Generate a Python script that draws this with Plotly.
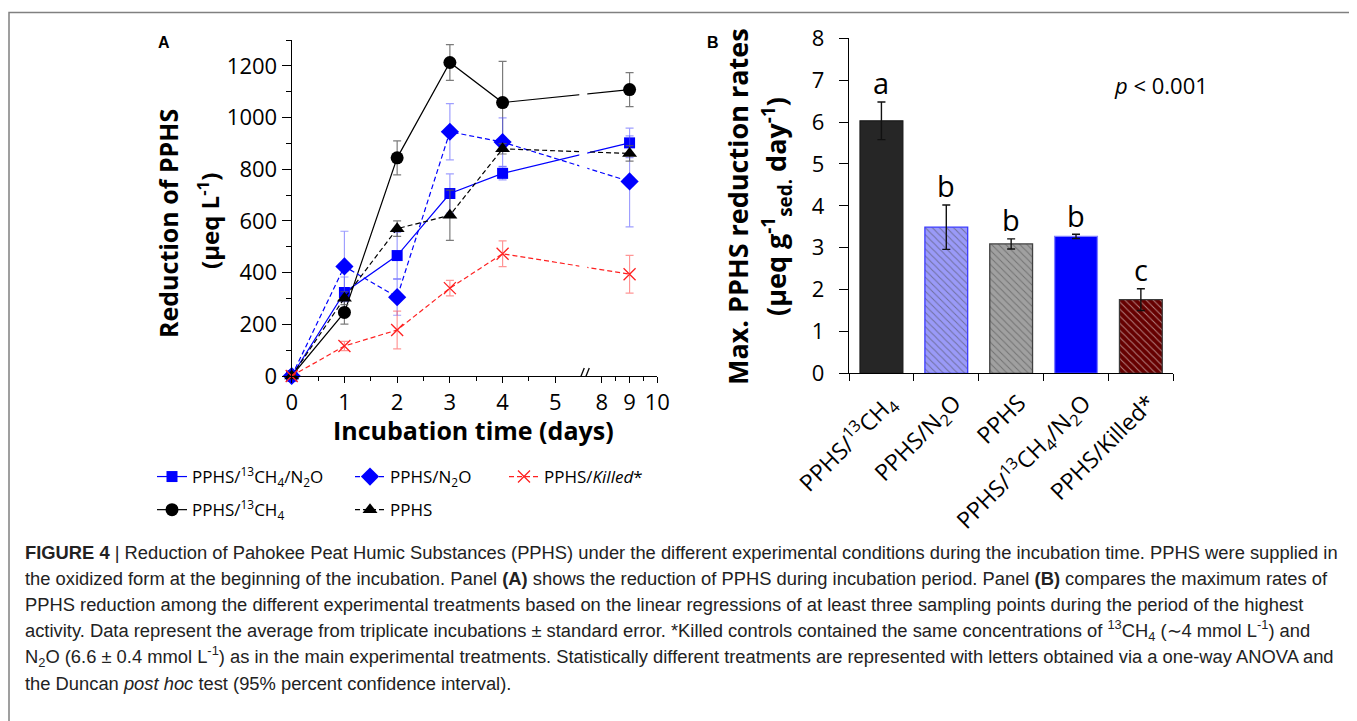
import plotly.graph_objects as go

W, H = 1357, 721
PAGE_OFFSET = 8  # default page margin around the plot div

# ---------------- Panel A data ----------------
days = [0, 1, 2, 3, 4, 9]
ch4_n2o = [0, 323, 466, 706, 784, 902]
ch4_n2o_err = [0, 60, 90, 76, 25, 57]
n2o = [0, 424, 305, 945, 905, 753]
n2o_err = [0, 136, 70, 109, 94, 176]
killed = [0, 116, 178, 340, 473, 394]
killed_err = [0, 18, 73, 30, 50, 73]
ch4 = [0, 246, 844, 1213, 1058, 1108]
ch4_err = [0, 45, 66, 69, 159, 66]
pphs = [0, 301, 570, 622, 879, 861]
pphs_err = [0, 25, 30, 97, 20, 30]

x_tick_days = [0, 1, 2, 3, 4, 5, 8, 9, 10]
x_minor_days = [0.5, 1.5, 2.5, 3.5, 4.5, 8.5, 9.5]

# ---------------- Panel B data ----------------
bar_labels = ["PPHS/<sup>13</sup>CH<sub>4</sub>", "PPHS/N<sub>2</sub>O", "PPHS",
              "PPHS/<sup>13</sup>CH<sub>4</sub>/N<sub>2</sub>O", "PPHS/Killed*"]
bar_rates = [6.03, 3.49, 3.09, 3.27, 1.76]
bar_err = [0.45, 0.53, 0.12, 0.05, 0.26]
bar_letters = ["a", "b", "b", "b", "c"]
bar_colors = ["#262626", "#9a9af8", "#a0a0a0", "#0000ff", "#660000"]
bar_lines = ["#1a1a1a", "#3a3aff", "#404040", "#8080ff", "#3a3a3a"]
bar_hatch = ["", "\\", "\\", "", "\\"]
bar_hatch_col = ["#262626", "#8e8eee", "#939393", "#0000ff", "#731212"]

# broken axis: days 0-5 linear, then 8-10 compressed
SEG2_START = 5.882
SEG2_SCALE = 0.526
BREAK_U = 5.53


def u(d):
    return d if d <= 5.5 else SEG2_START + (d - 8) * SEG2_SCALE


def X(px):
    return (px - PAGE_OFFSET) / W


def Y(py):
    return 1 - (py - PAGE_OFFSET) / H


FONT = "Open Sans"
fig = go.Figure()


def add_series(y, err, name, color, errcolor, symbol, size, dash, legend, group, msize_line=0):
    fig.add_trace(go.Scatter(
        x=[u(d) for d in days], y=y, name=name, mode="lines+markers",
        line=dict(color=color, width=1.2, dash=dash),
        marker=dict(symbol=symbol, size=size, color=color,
                    line=dict(color=color, width=msize_line)),
        error_y=dict(type="data", array=err, color=errcolor, thickness=1.2, width=4),
        xaxis="x", yaxis="y", legend=legend, legendgroup=group, cliponaxis=False,
    ))


add_series(ch4_n2o, ch4_n2o_err, "PPHS/<sup>13</sup>CH<sub>4</sub>/N<sub>2</sub>O", "#0000ff",
           "rgba(80,80,255,0.55)", "square", 11, "solid", "legend", "g1")
add_series(ch4, ch4_err, "PPHS/<sup>13</sup>CH<sub>4</sub>", "#000000",
           "rgba(90,90,90,0.8)", "circle", 13, "solid", "legend", "g2")
add_series(n2o, n2o_err, "PPHS/N<sub>2</sub>O", "#0000ff",
           "rgba(80,80,255,0.55)", "diamond", 14, "5px,3px", "legend2", "g3")
add_series(pphs, pphs_err, "PPHS", "#000000",
           "rgba(90,90,90,0.8)", "triangle-up", 13, "5px,3px", "legend2", "g4")
add_series(killed, killed_err, "PPHS/<i>Killed</i>*", "#ff2020",
           "rgba(255,80,80,0.6)", "x-thin", 12, "5px,3px", "legend3", "g5", msize_line=1.3)

# ---------------- Panel B bars ----------------
fig.add_trace(go.Bar(
    x=bar_labels, y=bar_rates, width=0.66,
    marker=dict(color=bar_colors, line=dict(color=bar_lines, width=1.3),
                pattern=dict(shape=bar_hatch, fgcolor=bar_hatch_col, size=5, solidity=0.2)),
    error_y=dict(type="data", array=bar_err, color="#111111", thickness=1.4, width=4),
    xaxis="x2", yaxis="y2", showlegend=False,
))

for lab, r, e, let in zip(bar_labels, bar_rates, bar_err, bar_letters):
    fig.add_annotation(x=lab, y=r + e + 0.46, xref="x2", yref="y2", text=let,
                       showarrow=False, font=dict(family=FONT, size=29, color="black"),
                       xanchor="center", yanchor="middle")

axis_common = dict(showline=True, linecolor="black", linewidth=1.3, showgrid=False,
                   zeroline=False, tickcolor="black", tickwidth=1.3, automargin=False,
                   tickfont=dict(family=FONT, size=22, color="black"))

fig.update_layout(
    width=W, height=H, margin=dict(l=0, r=0, t=0, b=0, pad=0, autoexpand=False),
    paper_bgcolor="white", plot_bgcolor="white",
    xaxis=dict(domain=[X(291.7), X(657.3)], range=[0, u(10)], anchor="y",
               tickmode="array", tickvals=[u(d) for d in x_tick_days],
               ticktext=[str(d) for d in x_tick_days], ticks="outside", ticklen=6,
               minor=dict(tickmode="array", tickvals=[u(d) for d in x_minor_days],
                          ticks="outside", ticklen=4, tickcolor="black"),
               **axis_common),
    xaxis3=dict(overlaying="x", matches="x", anchor="y", range=[0, u(10)],
                tickmode="array", tickvals=[u(d) for d in x_tick_days],
                ticks="inside", ticklen=6, tickcolor="black", tickwidth=1.3,
                showticklabels=False, showline=False, showgrid=False, zeroline=False,
                automargin=False,
                minor=dict(tickmode="array", tickvals=[u(d) for d in x_minor_days],
                           ticks="inside", ticklen=4, tickcolor="black")),
    yaxis=dict(domain=[Y(376), Y(40)], range=[0, 1300], anchor="x",
               tickmode="linear", tick0=0, dtick=200, ticks="outside", ticklen=9,
               minor=dict(dtick=100, ticks="outside", ticklen=5, tickcolor="black"),
               **axis_common),
    xaxis2=dict(domain=[X(849), X(1173.3)], anchor="y2", type="category",
                categoryorder="array", categoryarray=bar_labels, range=[-0.5, 4.5],
                tickson="boundaries", ticks="outside", ticklen=7, tickangle=-45,
                ticklabelstandoff=6, ticklabelshift=8,
                **{**axis_common, "tickfont": dict(family=FONT, size=23, color="black")}),
    xaxis4=dict(overlaying="x2", matches="x2", anchor="y2", type="category",
                categoryorder="array", categoryarray=bar_labels, range=[-0.5, 4.5],
                tickson="boundaries", ticks="inside", ticklen=7, tickcolor="black",
                tickwidth=1.3, showticklabels=False, showline=False, showgrid=False,
                zeroline=False, automargin=False),
    yaxis2=dict(domain=[Y(373.3), Y(38.3)], range=[0, 8], anchor="x2",
                tickmode="linear", tick0=0, dtick=1, ticks="outside", ticklen=9,
                ticklabelstandoff=10, **axis_common),
    bargap=0.34,
)

leg_common = dict(orientation="v", yanchor="top", xanchor="left", bgcolor="rgba(0,0,0,0)",
                  font=dict(family=FONT, size=17, color="black"), tracegroupgap=8,
                  itemclick=False, itemdoubleclick=False)
fig.update_layout(
    legend=dict(x=X(152), y=Y(459), **leg_common),
    legend2=dict(x=X(350), y=Y(459), **leg_common),
    legend3=dict(x=X(504), y=Y(459), **leg_common),
)


def note(px, py, text, size, angle=0, family=FONT, xanchor="center", color="black"):
    fig.add_annotation(x=X(px), y=Y(py), xref="paper", yref="paper", text=text,
                       textangle=angle, showarrow=False, xanchor=xanchor, yanchor="middle",
                       font=dict(family=family, size=size, color=color))


# axis titles and labels
note(168, 224, "<b>Reduction of PPHS</b>", 25, -90)
note(209, 221, "<b>(µeq L<sup>-1</sup>)</b>", 24, -90)
note(473, 430, "<b>Incubation time (days)</b>", 25)
note(737, 207, "<b>Max. PPHS reduction rates</b>", 27, -90)
note(776, 207, "<b>(µeq g<sup>-1</sup><sub>sed.</sub> day<sup>-1</sup>)</b>", 27, -90)
note(164, 43, "<b>A</b>", 16, family="Liberation Sans")
note(713, 43, "<b>B</b>", 16, family="Liberation Sans")
note(1161, 85, "<i>p</i> < 0.001", 22)

# axis break marks and line gap
fig.add_shape(type="rect", xref="x", yref="y", xsizemode="pixel", xanchor=BREAK_U,
              x0=-4, x1=4, y0=25, y1=1300, line=dict(width=0), fillcolor="white", layer="above")
for off in (0, 5):
    fig.add_shape(type="line", xref="x", yref="y", xsizemode="pixel", ysizemode="pixel",
                  xanchor=BREAK_U, yanchor=0, x0=-5 + off, x1=1 + off, y0=-7, y1=8,
                  line=dict(color="black", width=1.3), layer="above")

# caption
caption = [
    "<b>FIGURE 4</b> | Reduction of Pahokee Peat Humic Substances (PPHS) under the different experimental conditions during the incubation time. PPHS were supplied in",
    "the oxidized form at the beginning of the incubation. Panel <b>(A)</b> shows the reduction of PPHS during incubation period. Panel <b>(B)</b> compares the maximum rates of",
    "PPHS reduction among the different experimental treatments based on the linear regressions of at least three sampling points during the period of the highest",
    "activity. Data represent the average from triplicate incubations ± standard error. *Killed controls contained the same concentrations of <sup>13</sup>CH<sub>4</sub> (∼4 mmol L<sup>-1</sup>) and",
    "N<sub>2</sub>O (6.6 ± 0.4 mmol L<sup>-1</sup>) as in the main experimental treatments. Statistically different treatments are represented with letters obtained via a one-way ANOVA and",
    "the Duncan <i>post hoc</i> test (95% percent confidence interval).",
]
for i, line in enumerate(caption):
    note(23, 552 + i * 26.2, line, 18.35, family="Liberation Sans", xanchor="left", color="#222222")

# figure frame
fig.add_shape(type="rect", xref="paper", yref="paper", x0=X(9), x1=X(1356), y0=-0.1, y1=Y(12.5),
              line=dict(color="#808080", width=1.5), fillcolor="rgba(0,0,0,0)", layer="above")

fig.write_html("out.html")
